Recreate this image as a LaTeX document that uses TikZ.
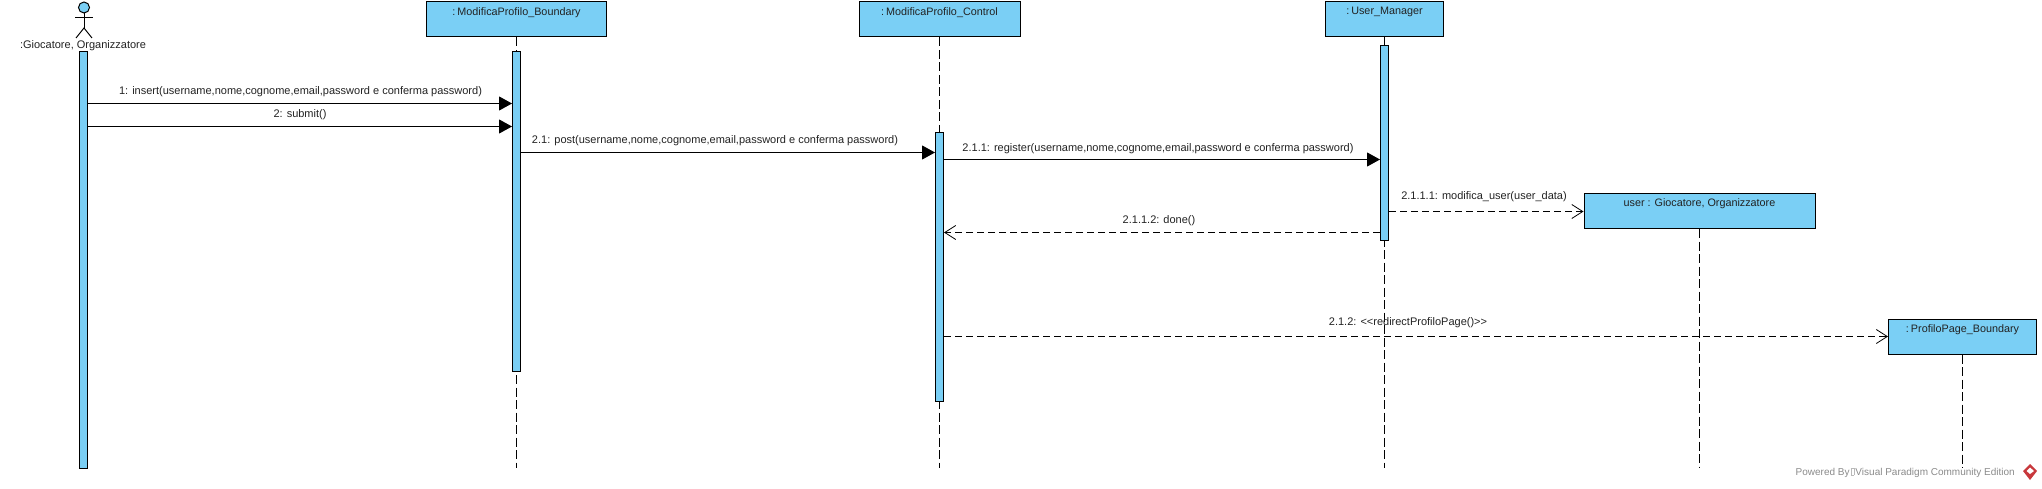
\documentclass[tikz,border=0pt]{standalone}
\usepackage{fontspec}
\setmainfont{Liberation Sans}
\usetikzlibrary{arrows.meta,calc}
\definecolor{vpblue}{HTML}{7ACFF5}
\definecolor{vptext}{HTML}{222222}
\definecolor{vpgray}{HTML}{8A8A8A}
\definecolor{vpred}{HTML}{C8383C}
\tikzset{
  x=1pt,y=-1pt,
  lifebox/.style={draw=black,fill=vpblue,line width=1pt,rectangle,inner sep=0pt},
  lifetitle/.style={font=\fontsize{10.8}{13}\selectfont,text=vptext,anchor=north,inner sep=0pt,yshift=-5.5pt},
  bar/.style={draw=black,fill=vpblue,line width=1pt,rectangle,inner sep=0pt,minimum width=8pt},
  lifeline/.style={draw=black,line width=1pt,dash pattern=on 9pt off 3.5pt},
  syncmsg/.style={draw=black,line width=1pt,-{Triangle[length=13pt,width=14pt]}},
  replymsg/.style={draw=black,line width=1pt,dash pattern=on 7pt off 4pt,-{Straight Barb[length=11pt,width=14pt,line width=.8pt]}},
  msglabel/.style={font=\fontsize{11}{13}\selectfont,text=vptext,inner sep=0pt},
  actorline/.style={draw=black,line width=1pt}
}
\begin{document}
\begin{tikzpicture}
\useasboundingbox (0,0) rectangle (2042,489);
% lifeline boxes
\node[lifebox,minimum width=180pt,minimum height=35pt,label={[lifetitle]north:{:\hspace{2pt}ModificaProfilo\_Boundary}}] (b1) at (516.5,19.5) {};
\node[lifebox,minimum width=161pt,minimum height=35pt,label={[lifetitle]north:{:\hspace{2pt}ModificaProfilo\_Control}}] (b2) at (939.5,19.5) {};
\node[lifebox,minimum width=118pt,minimum height=35pt,label={[lifetitle]north:{:\hspace{2pt}User\_Manager}}] (b3) at (1384.5,19.5) {};
\node[lifebox,minimum width=231pt,minimum height=35pt,label={[lifetitle]north:{user : Giocatore, Organizzatore}}] (b4) at (1699.5,211) {};
\node[lifebox,minimum width=148pt,minimum height=35pt,label={[lifetitle]north:{:\hspace{2pt}ProfiloPage\_Boundary}}] (b5) at (1962.5,336.5) {};
% lifeline ends
\coordinate (e2) at (516.5,468);
\coordinate (e3) at (939.5,468);
\coordinate (e4) at (1384.5,468);
\coordinate (e5) at (1699.5,468);
\coordinate (e6) at (1962.5,468);
\draw[lifeline] (b1.south -| e2) -- (e2);
\draw[lifeline] (b2.south -| e3) -- (e3);
\draw[lifeline] (b3.south -| e4) -- (e4);
\draw[lifeline] (b4.south -| e5) -- (e5);
\draw[lifeline] (b5.south -| e6) -- (e6);
% activation bars
\node[bar,minimum height=416pt] (a0) at (83.5,260) {};
\node[bar,minimum height=319pt] (a1) at (516.5,211.5) {};
\node[bar,minimum height=268pt] (a2) at (939.5,267) {};
\node[bar,minimum height=194pt] (a3) at (1384.5,143) {};
% actor
\node[draw=black,fill=vpblue,line width=1pt,circle,inner sep=0pt,minimum size=11pt] (head) at (84,7.5) {};
\coordinate (crotch) at (84,28);
\coordinate (armL) at (75,18);
\coordinate (armR) at (93,18);
\coordinate (legL) at (76,38);
\coordinate (legR) at (92,38);
\draw[actorline] (head.south) -- (crotch);
\draw[actorline] (armL) -- (armR);
\draw[actorline] (legL) -- (crotch) -- (legR);
\node[msglabel] (actorname) at (83,45.5) {:Giocatore, Organizzatore};
% message anchors
\coordinate (m1) at (0,103.5);
\coordinate (m2) at (0,126.5);
\coordinate (m3) at (0,152.5);
\coordinate (m4) at (0,159.5);
\coordinate (m5) at (0,211.5);
\coordinate (m6) at (0,232.5);
\coordinate (m7) at (0,336.5);
% messages
\draw[syncmsg] (a0.east |- m1) -- (a1.west |- m1);
\draw[syncmsg] (a0.east |- m2) -- (a1.west |- m2);
\draw[syncmsg] (a1.east |- m3) -- (a2.west |- m3);
\draw[syncmsg] (a2.east |- m4) -- (a3.west |- m4);
\draw[replymsg] (a3.east |- m5) -- (b4.west |- m5);
\draw[replymsg] (a3.west |- m6) -- (a2.east |- m6);
\draw[replymsg] (a2.east |- m7) -- (b5.west |- m7);
% labels
\node[msglabel] (l1) at (300.5,91.5) {1: insert(username,nome,cognome,email,password e conferma password)};
\node[msglabel] (l2) at (300,114.5) {2: submit()};
\node[msglabel] (l3) at (715,140.5) {2.1: post(username,nome,cognome,email,password e conferma password)};
\node[msglabel] (l4) at (1158,149) {2.1.1: register(username,nome,cognome,email,password e conferma password)};
\node[msglabel] (l5) at (1484,196.5) {2.1.1.1: modifica\_user(user\_data)};
\node[msglabel] (l6) at (1159,221) {2.1.1.2: done()};
\node[msglabel] (l7) at (1408,322.5) {2.1.2: <{}<redirectProfiloPage()>{}>};
% watermark
\node[font=\fontsize{10}{12}\selectfont,text=vpgray,inner sep=0pt,anchor=east] (wm) at (2015,472.5) {Powered By\hspace{1pt}{\fboxsep=0pt\fboxrule=0.2pt\color{vpgray!60}\fbox{\phantom{\rule{3.5pt}{6.5pt}}}}\hspace{1pt}Visual Paradigm Community Edition};
\fill[vpred] (2030,464) -- (2037,471) -- (2030,480) -- (2023,471) -- cycle;
\fill[white] (2030,467.5) -- (2034,471) -- (2030,474) -- (2026.5,471) -- cycle;
\end{tikzpicture}
\end{document}
